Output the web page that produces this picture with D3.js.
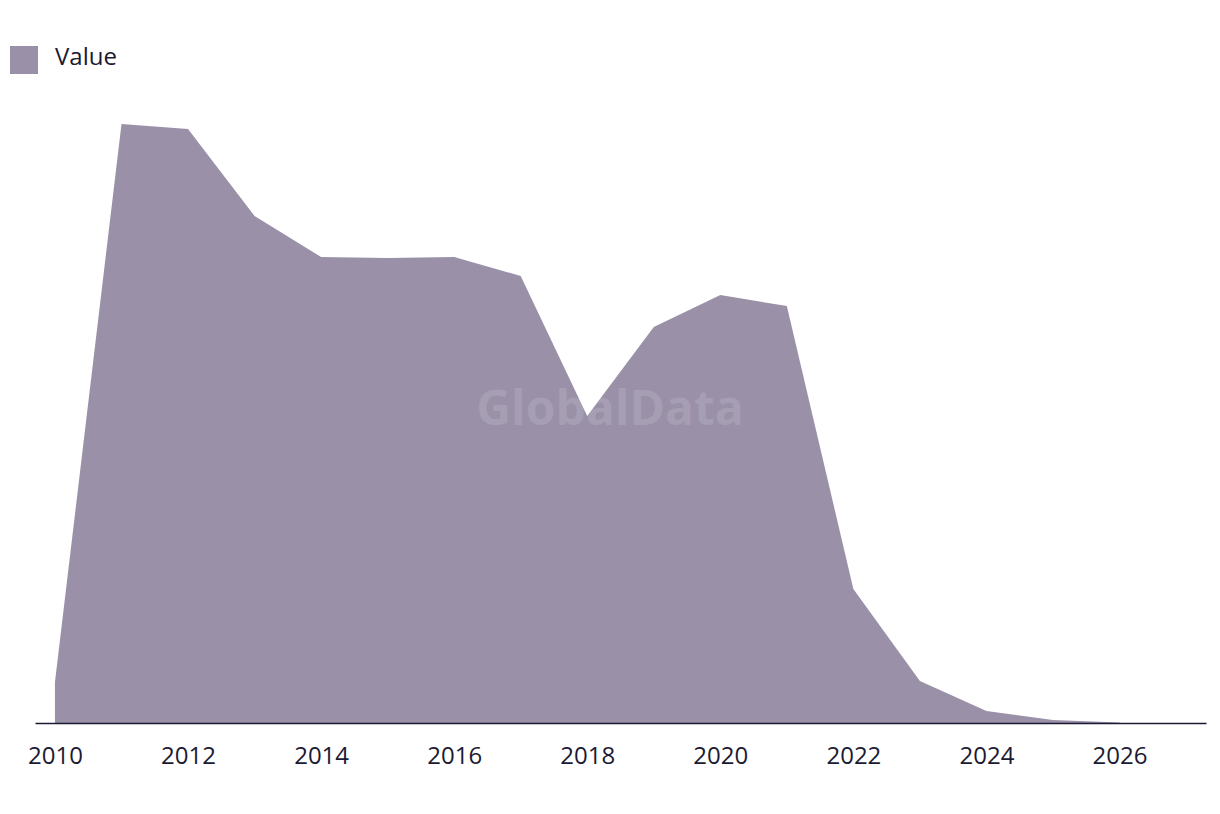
<!DOCTYPE html>
<html><head><meta charset="utf-8">
<script src="https://cdn.jsdelivr.net/npm/d3@7"></script>
<style>body{margin:0;background:#fff;}svg{display:block;}</style>
</head><body>
<svg id="c" width="1220" height="814"></svg>
<script>
const years = [2010,2011,2012,2013,2014,2015,2016,2017,2018,2019,2020,2021,2022,2023,2024,2025,2026];
const values = [41,599,594,507,466,465,466,447,307,396,428,417,134,42,12,3,0.5];
const tickYears = [2010,2012,2014,2016,2018,2020,2022,2024,2026];
const seriesName = "Value";

const svg = d3.select("#c");
const x = d3.scaleLinear().domain([2009.7, 2027.3]).range([35, 1206]);
const y = d3.scaleLinear().domain([0, 600]).range([723, 123]);
const fill = "#9a91a9";
const ink = "#1b1a33";
const font = "'Open Sans', 'Liberation Sans', sans-serif";

const data = years.map((yr,i)=>({yr, v: values[i]}));
svg.append("path").datum(data)
  .attr("fill", fill)
  .attr("d", d3.area().x(d=>x(d.yr)).y0(y(0)).y1(d=>y(d.v)));

svg.append("text").attr("x", 610).attr("y", 425).attr("text-anchor","middle")
  .attr("font-family",font).attr("font-weight",700)
  .attr("font-size",48).attr("fill","#ffffff").attr("fill-opacity",0.12).text("GlobalData");

const axis = d3.axisBottom(x).tickValues(tickYears).tickFormat(d3.format("d")).tickSize(0).tickPadding(24);
const g = svg.append("g").attr("transform",`translate(0,${y(0)})`).call(axis);
g.select(".domain").attr("stroke", ink).attr("stroke-width",1.6);
g.selectAll("text").attr("font-family",font).attr("font-size",24).attr("fill",ink);

svg.append("rect").attr("x",10).attr("y",46).attr("width",28).attr("height",28).attr("fill",fill);
svg.append("text").attr("x",55).attr("y",65).attr("font-family",font)
  .attr("font-size",24).attr("fill",ink).text(seriesName);
</script>
</body></html>
